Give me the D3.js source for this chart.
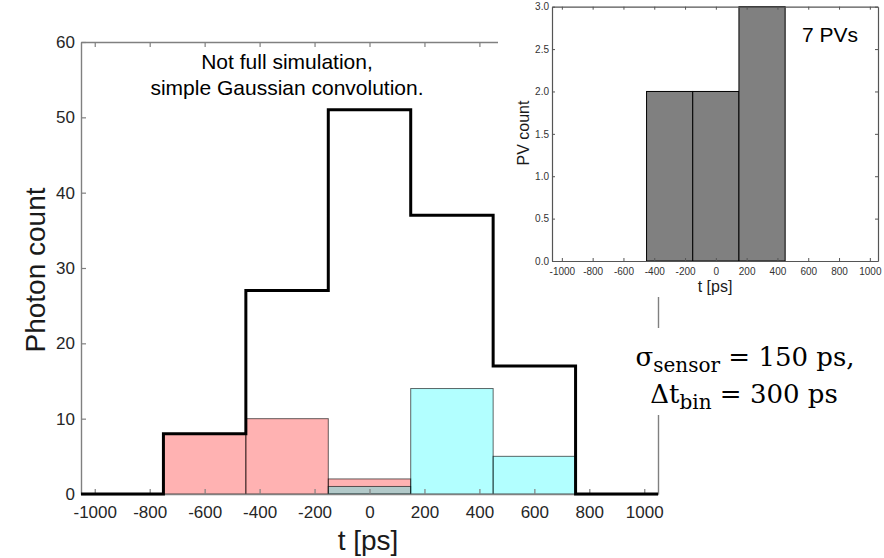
<!DOCTYPE html>
<html><head><meta charset="utf-8">
<script src="https://cdn.jsdelivr.net/npm/d3@7"></script>
<style>
html,body{margin:0;padding:0;background:#fff;}
svg{display:block;font-family:"Liberation Sans",Arial,Helvetica,sans-serif;}
</style></head>
<body>
<svg id="chart" width="884" height="558"></svg>
<script>
// ---- data ----
const binEdges   = [-1050, -750, -450, -150, 150, 450, 750, 1050];
const totalCounts = [0, 8, 27, 51, 37, 17, 0];
const pinkCounts  = [0, 8, 10, 2, 0, 0, 0];
const cyanCounts  = [0, 0, 0, 1, 14, 5, 0];
const xTicks = [-1000, -800, -600, -400, -200, 0, 200, 400, 600, 800, 1000];
const yTicks = [0, 10, 20, 30, 40, 50, 60];

const pvEdges  = [-450, -150, 150, 450];
const pvCounts = [2, 2, 3];
const pvYTicks = [0, 0.5, 1.0, 1.5, 2.0, 2.5, 3.0];

const titleLines = ["Not full simulation,", "simple Gaussian convolution."];
const insetNote = "7 PVs";

const svg = d3.select("#chart");
const gray = "#808080", txt = "#262626";
const intFmt = d => String(d);

// ---- main chart ----
const x = d3.scaleLinear().domain([-1050, 1050]).range([81, 658]);
const y = d3.scaleLinear().domain([0, 60]).range([494, 42]);

const bins = d3.range(totalCounts.length).map(i => ({x0: binEdges[i], x1: binEdges[i+1], pink: pinkCounts[i], cyan: cyanCounts[i], total: totalCounts[i]}));

const barG = svg.append("g");
barG.selectAll("rect.pink").data(bins.filter(d => d.pink > 0)).join("rect")
  .attr("x", d => x(d.x0)).attr("width", d => x(d.x1) - x(d.x0))
  .attr("y", d => y(d.pink)).attr("height", d => y(0) - y(d.pink))
  .attr("fill", "rgb(255,0,0)").attr("fill-opacity", 0.3)
  .attr("stroke", "#000").attr("stroke-opacity", 0.6).attr("stroke-width", 1);
barG.selectAll("rect.cyan").data(bins.filter(d => d.cyan > 0)).join("rect")
  .attr("x", d => x(d.x0)).attr("width", d => x(d.x1) - x(d.x0))
  .attr("y", d => y(d.cyan)).attr("height", d => y(0) - y(d.cyan))
  .attr("fill", "rgb(0,255,255)").attr("fill-opacity", 0.3)
  .attr("stroke", "#000").attr("stroke-opacity", 0.6).attr("stroke-width", 1);

// axes
const axB = svg.append("g").attr("transform", `translate(0,${y(0)})`)
  .call(d3.axisBottom(x).tickValues(xTicks).tickSizeInner(-5).tickSizeOuter(0).tickPadding(12).tickFormat(intFmt));
const axT = svg.append("g").attr("transform", `translate(0,${y(60)})`)
  .call(d3.axisTop(x).tickValues(xTicks).tickSizeInner(-5).tickSizeOuter(0).tickFormat(""));
const axL = svg.append("g").attr("transform", `translate(${x(-1050)},0)`)
  .call(d3.axisLeft(y).tickValues(yTicks).tickSizeInner(-5).tickSizeOuter(0).tickPadding(6).tickFormat(intFmt));
const axR = svg.append("g").attr("transform", `translate(${x(1050)},0)`)
  .call(d3.axisRight(y).tickValues([]).tickSizeOuter(0));
[axB, axT, axL, axR].forEach(a => {
  a.select(".domain").attr("stroke", gray).attr("stroke-width", 1.4);
  a.selectAll(".tick line").attr("stroke", gray).attr("stroke-width", 1.2);
  a.selectAll(".tick text").attr("fill", txt).attr("font-size", 17)
    .attr("font-family", "Liberation Sans, Arial, sans-serif");
});

// step outline
const stepPts = bins.map(d => [d.x0, d.total]).concat([[binEdges[binEdges.length-1], totalCounts[totalCounts.length-1]]]);
svg.append("path").datum(stepPts)
  .attr("d", d3.line().x(d => x(d[0])).y(d => y(d[1])).curve(d3.curveStepAfter))
  .attr("fill", "none").attr("stroke", "#000").attr("stroke-width", 3);

// title
svg.append("text").attr("x", 287).attr("y", 69).attr("text-anchor", "middle")
  .attr("font-size", 21).attr("fill", "#000").text(titleLines[0]);
svg.append("text").attr("x", 287).attr("y", 95).attr("text-anchor", "middle")
  .attr("font-size", 21).attr("fill", "#000").text(titleLines[1]);

// axis labels
svg.append("text").attr("x", 368).attr("y", 550).attr("text-anchor", "middle")
  .attr("font-size", 28).attr("fill", "#1a1a1a").text("t [ps]");
svg.append("text").attr("transform", "translate(45,270) rotate(-90)").attr("text-anchor", "middle")
  .attr("font-size", 28).attr("fill", "#1a1a1a").text("Photon count");

// ---- inset ----
svg.append("rect").attr("x", 498).attr("y", 0).attr("width", 386).attr("height", 297).attr("fill", "#fff");
const xi = d3.scaleLinear().domain([-1064, 1053]).range([552, 878]);
const yi = d3.scaleLinear().domain([0, 3]).range([261, 6.7]);
const pvBins = pvCounts.map((c, i) => ({x0: pvEdges[i], x1: pvEdges[i+1], c}));
svg.append("g").selectAll("rect").data(pvBins).join("rect")
  .attr("x", d => xi(d.x0)).attr("width", d => xi(d.x1) - xi(d.x0))
  .attr("y", d => yi(d.c)).attr("height", d => yi(0) - yi(d.c))
  .attr("fill", "#808080").attr("stroke", "#000").attr("stroke-width", 1);

const iB = svg.append("g").attr("transform", `translate(0,${yi(0)})`)
  .call(d3.axisBottom(xi).tickValues(xTicks).tickSizeInner(-3).tickSizeOuter(0).tickPadding(7).tickFormat(intFmt));
const iT = svg.append("g").attr("transform", `translate(0,${yi(3)})`)
  .call(d3.axisTop(xi).tickValues(xTicks).tickSizeInner(-3).tickSizeOuter(0).tickFormat(""));
const iL = svg.append("g").attr("transform", `translate(${xi.range()[0]},0)`)
  .call(d3.axisLeft(yi).tickValues(pvYTicks).tickSizeInner(-3).tickSizeOuter(0).tickPadding(3).tickFormat(d => d.toFixed(1)));
const iR = svg.append("g").attr("transform", `translate(${xi.range()[1]},0)`)
  .call(d3.axisRight(yi).tickValues(pvYTicks).tickSizeInner(-3).tickSizeOuter(0).tickFormat(""));
[iB, iT, iL, iR].forEach(a => {
  a.select(".domain").attr("stroke", "#555").attr("stroke-width", 1.2);
  a.selectAll(".tick line").attr("stroke", "#555").attr("stroke-width", 1);
  a.selectAll(".tick text").attr("fill", "#333").attr("font-size", 10)
    .attr("font-family", "Liberation Sans, Arial, sans-serif");
});
svg.append("text").attr("x", 715).attr("y", 292).attr("text-anchor", "middle")
  .attr("font-size", 16).attr("fill", "#1a1a1a").text("t [ps]");
svg.append("text").attr("transform", "translate(529,133) rotate(-90)").attr("text-anchor", "middle")
  .attr("font-size", 16).attr("fill", "#1a1a1a").text("PV count");
svg.append("text").attr("x", 802).attr("y", 42).attr("font-size", 21).attr("fill", "#000").text(insetNote);

// ---- formula ----
svg.append("rect").attr("x", 622).attr("y", 328).attr("width", 250).attr("height", 87).attr("fill", "#fff");
const fFont = "DejaVu Serif, Liberation Serif, serif";
const f1 = svg.append("text").attr("x", 745).attr("y", 366).attr("text-anchor", "middle")
  .attr("font-family", fFont).attr("font-size", 26).attr("fill", "#000");
f1.append("tspan").text("σ");
f1.append("tspan").attr("font-size", 20).attr("dy", 6).text("sensor");
f1.append("tspan").attr("dy", -6).text(" = 150 ps,");
const f2 = svg.append("text").attr("x", 744).attr("y", 403).attr("text-anchor", "middle")
  .attr("font-family", fFont).attr("font-size", 26).attr("fill", "#000");
f2.append("tspan").text("Δt");
f2.append("tspan").attr("font-size", 20).attr("dy", 6).text("bin");
f2.append("tspan").attr("dy", -6).text(" = 300 ps");
</script>
</body></html>
